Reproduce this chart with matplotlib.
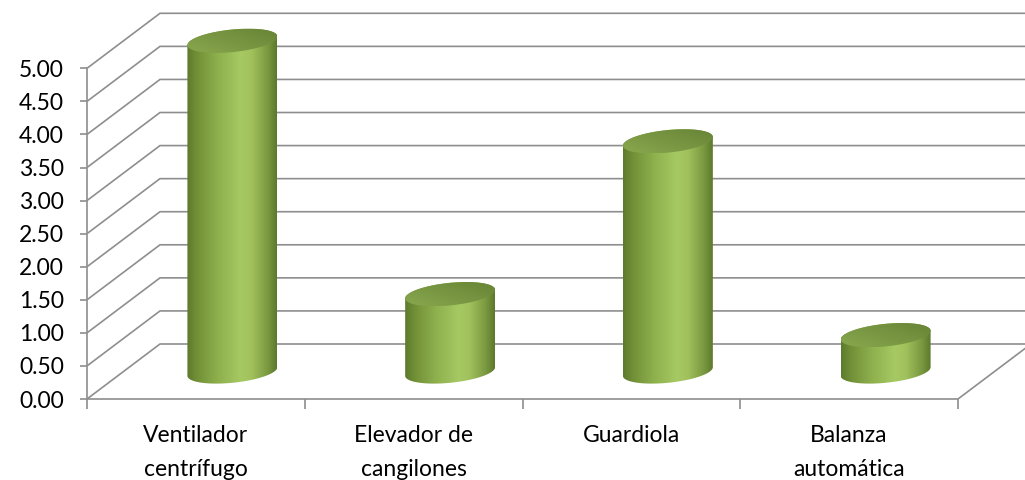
import numpy as np
import matplotlib
matplotlib.use("Agg")
import matplotlib.pyplot as plt
from matplotlib.path import Path
from matplotlib.patches import PathPatch
from matplotlib.colors import LinearSegmentedColormap

# ---------------- data ----------------
categories = ["Ventilador\ncentrífugo", "Elevador de\ncangilones", "Guardiola", "Balanza\nautomática"]
values = [5.00, 1.17, 3.48, 0.55]
y_ticks = [0.0, 0.5, 1.0, 1.5, 2.0, 2.5, 3.0, 3.5, 4.0, 4.5, 5.0]
y_tick_labels = ["0.00", "0.50", "1.00", "1.50", "2.00", "2.50", "3.00", "3.50", "4.00", "4.50", "5.00"]

# ---------------- layout ----------------
W, H = 1025, 480
px_cat = 217.75      # pixels per category
px_val = 66.14       # pixels per value unit
x0_px, y0_px = 87, 81
fig = plt.figure(figsize=(W / 100, H / 100), dpi=100)
ax = fig.add_axes([x0_px / W, y0_px / H, 1 - x0_px / W, 1 - y0_px / H])
ax.set_xlim(0, (W - x0_px) / px_cat)
ax.set_ylim(0, (H - y0_px) / px_val)
DX = 73 / px_cat     # depth offset (category units)
DY = 55 / px_val     # depth offset (value units)
n = len(categories)

grid_c = "#8e8e8e"
lw = 1.2
font = ["Lato", "DejaVu Sans"]
fs = 16.5

# back wall gridlines + side diagonals
for v in y_ticks:
    ax.plot([0, DX, n + DX], [v, v + DY, v + DY], color=grid_c, lw=lw,
            solid_joinstyle="miter", solid_capstyle="butt", zorder=1)
ax.plot([n, n + DX], [0, DY], color=grid_c, lw=lw, zorder=1)

# spines / ticks
for s in ["top", "right"]:
    ax.spines[s].set_visible(False)
ax.spines["left"].set_bounds(0, max(y_ticks))
ax.spines["bottom"].set_bounds(0, n)
for s in ["left", "bottom"]:
    ax.spines[s].set_color(grid_c)
    ax.spines[s].set_linewidth(lw)
ax.set_yticks(y_ticks)
ax.set_yticklabels(y_tick_labels, fontfamily=font)
ax.tick_params(axis="y", length=5, width=lw, color=grid_c, pad=11.5, labelsize=fs)
ax.set_xticks(np.arange(n + 1))
ax.set_xticklabels([])
ax.tick_params(axis="x", which="major", length=7, width=lw, color=grid_c)
ax.set_xticks(np.arange(n) + 0.5, minor=True)
ax.set_xticklabels(categories, minor=True, fontfamily=font, linespacing=1.72)
ax.tick_params(axis="x", which="minor", length=0, pad=19, labelsize=fs)

# ---------------- cylinders ----------------
body_cmap = LinearSegmentedColormap.from_list("body", [
    (0.0, "#5e7a2d"), (0.12, "#739238"), (0.35, "#8fb14e"), (0.6, "#a7c963"),
    (0.72, "#a0c15c"), (0.9, "#7a9940"), (1.0, "#5d782c")])
top_cmap = LinearSegmentedColormap.from_list("top", ["#88a74d", "#789642", "#678336"])

a = 42 / px_cat      # ellipse half-width (category units)
f = 0.22             # ellipse half-depth (fraction of full depth)
t0 = np.arctan2(f * DX, a)


def ell(cx, cy, t):
    return cx + a * np.cos(t) + f * DX * np.sin(t), cy + f * DY * np.sin(t)


grad = np.linspace(0, 1, 256).reshape(1, -1)
gx, gy = np.meshgrid(np.linspace(0, 1, 128), np.linspace(0, 1, 64))
grad_top = 0.55 * gx + 0.45 * gy

for i, v in enumerate(values):
    cx = i + 0.5 + 0.5 * DX
    yb = 0.5 * DY
    yt = v + 0.5 * DY
    tf = np.linspace(np.pi + t0, 2 * np.pi + t0, 120)
    tb = np.linspace(t0, np.pi + t0, 120)
    bx, by = ell(cx, yb, tf)
    tx, ty = ell(cx, yt, tb)
    px = np.concatenate([bx, tx, bx[:1]])
    py = np.concatenate([by, ty, by[:1]])
    verts = np.column_stack([px, py])
    body = PathPatch(Path(verts, closed=True), facecolor="none", edgecolor="none", zorder=3)
    ax.add_patch(body)
    xl, xr = px.min(), px.max()
    im = ax.imshow(grad, extent=[xl, xr, py.min(), py.max()], aspect="auto",
                   cmap=body_cmap, interpolation="bicubic", zorder=3)
    im.set_clip_path(body)

    tt = np.linspace(0, 2 * np.pi, 240)
    ex, ey = ell(cx, yt, tt)
    top = PathPatch(Path(np.column_stack([ex, ey]), closed=True),
                    facecolor="none", edgecolor="none", zorder=4)
    ax.add_patch(top)
    im2 = ax.imshow(grad_top, extent=[ex.min(), ex.max(), ey.min(), ey.max()],
                    origin="lower", aspect="auto", cmap=top_cmap,
                    interpolation="bicubic", zorder=4)
    im2.set_clip_path(top)

ax.set_xlim(0, (W - x0_px) / px_cat)
ax.set_ylim(0, (H - y0_px) / px_val)
ax.set_facecolor("none")
fig.savefig("out.png", dpi=100)
